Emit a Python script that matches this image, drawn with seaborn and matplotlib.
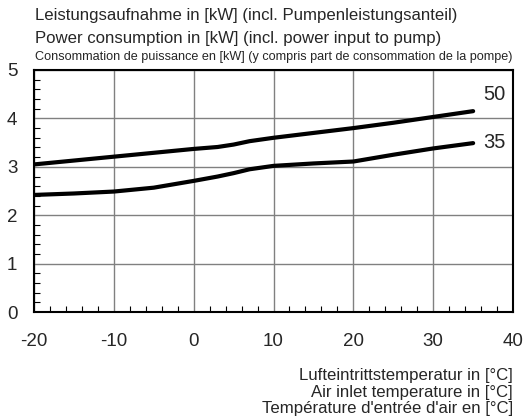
import pandas as pd
import matplotlib.pyplot as plt
import seaborn as sns
from matplotlib.ticker import MultipleLocator

# Data
temp = [-20, -15, -10, -5, 0, 3, 5, 7, 10, 15, 20, 25, 30, 35]
power_50 = [3.05, 3.13, 3.21, 3.29, 3.37, 3.41, 3.46, 3.53, 3.60, 3.70, 3.80, 3.91, 4.03, 4.15]
power_35 = [2.42, 2.45, 2.49, 2.57, 2.71, 2.80, 2.87, 2.95, 3.02, 3.07, 3.11, 3.25, 3.38, 3.49]
series_labels = ["50", "35"]
label_pos_y = [4.5, 3.5]

df = pd.DataFrame({
    "temp": temp * 2,
    "power": power_50 + power_35,
    "flow": ["50"] * len(temp) + ["35"] * len(temp),
})

sns.set_style("white")
plt.rcParams['font.family'] = ['Liberation Sans', 'DejaVu Sans']
plt.rcParams['axes.unicode_minus'] = False

fig = plt.figure(figsize=(5.23, 4.19), dpi=100)
ax = fig.add_axes([0.065, 0.255, 0.916, 0.578])

sns.lineplot(data=df, x="temp", y="power", hue="flow", palette=["black", "black"],
             linewidth=3, legend=False, ax=ax)

ax.set_xlim(-20, 40)
ax.set_ylim(0, 5)
ax.xaxis.set_major_locator(MultipleLocator(10))
ax.yaxis.set_major_locator(MultipleLocator(1))
ax.xaxis.set_minor_locator(MultipleLocator(2))
ax.yaxis.set_minor_locator(MultipleLocator(0.2))
ax.grid(True, which="major", color="#808080", linewidth=1)
ax.tick_params(which="major", length=0, labelsize=13.5)
ax.tick_params(axis="x", which="major", pad=15)
ax.tick_params(axis="y", which="major", pad=12)
ax.tick_params(which="minor", direction="in", length=4, width=0.8, color="black",
               bottom=True, left=True)
for s in ax.spines.values():
    s.set_color("black")
    s.set_linewidth(1.5)
ax.set_xlabel("")
ax.set_ylabel("")

# curve labels
for lab, yv in zip(series_labels, label_pos_y):
    ax.text(37.6, yv, lab, fontsize=14.5, ha="center", va="center")

# titles
fig.text(0.067, 0.962, "Leistungsaufnahme in [kW] (incl. Pumpenleistungsanteil)",
         fontsize=12.1, ha="left", va="center")
fig.text(0.067, 0.907, "Power consumption in [kW] (incl. power input to pump)",
         fontsize=12.1, ha="left", va="center")
fig.text(0.067, 0.864, "Consommation de puissance en [kW] (y compris part de consommation de la pompe)",
         fontsize=9.1, ha="left", va="center")

fig.text(0.981, 0.105, "Lufteintrittstemperatur in [°C]", fontsize=12.1, ha="right", va="center")
fig.text(0.981, 0.064, "Air inlet temperature in [°C]", fontsize=12.1, ha="right", va="center")
fig.text(0.981, 0.024, "Température d'entrée d'air en [°C]", fontsize=12.1, ha="right", va="center")

fig.savefig("out.png", dpi=100)
